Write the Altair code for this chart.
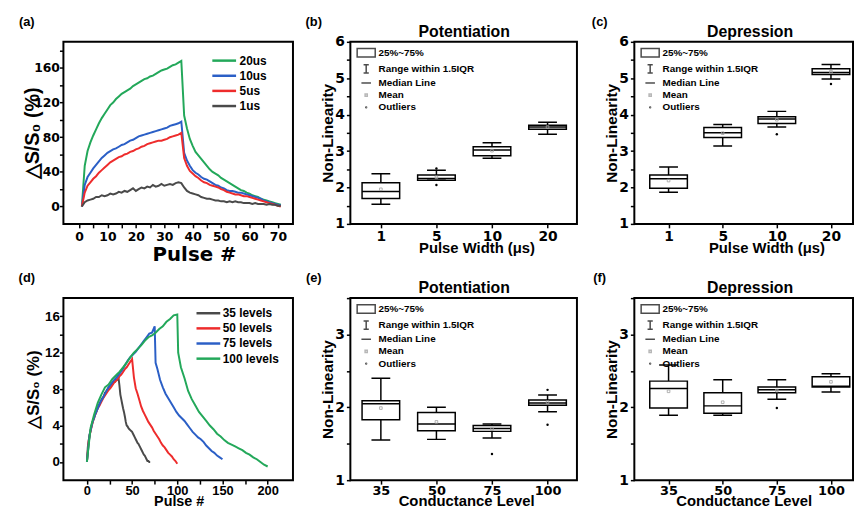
import altair as alt
import pandas as pd

# ---------------- Panel (a): pulse-width curves ----------------
a_pulse = list(range(1, 72))
a_20us = [0, 47, 64, 74, 82, 89, 96, 102, 107, 112, 117, 120, 124, 127, 130, 132, 134, 136, 139, 141,
          143, 145, 147, 148, 150, 151, 153, 155, 157, 158, 159, 161, 163, 164, 166, 168,
          105, 90, 78, 70, 63, 59, 55, 51, 47, 43, 40, 38, 36, 33, 31, 29, 27, 25, 23, 21,
          19, 18, 16, 15, 13, 12, 11, 9, 8, 7, 6, 5, 4, 3, 2]
a_10us = [0, 25, 34, 39, 44, 48, 52, 56, 59, 62, 64, 66, 67, 69, 71, 72, 74, 76, 77, 79,
          81, 82, 83, 84, 85, 86, 87, 88, 89, 90, 91, 93, 94, 95, 96, 98,
          62, 53, 47, 42, 39, 37, 34, 32, 31, 29, 27, 25, 24, 22, 21, 19, 18, 18, 17, 16,
          16, 15, 14, 13, 12, 11, 10, 9, 7, 6, 5, 4, 3, 2, 1.5]
a_5us = [0, 16, 24, 28, 32, 35, 39, 42, 45, 48, 51, 53, 55, 57, 58, 60, 61, 63, 64, 66,
         67, 69, 70, 72, 73, 74, 75, 76, 76, 77, 78, 80, 81, 82, 83, 85,
         56, 47, 41, 38, 35, 33, 30, 28, 27, 25, 24, 23, 22, 20, 19, 17, 16, 15, 14, 14,
         13, 12, 12, 11, 10, 9, 8, 7, 6, 5, 4, 3, 2, 1, 0]
a_1us = [0, 5, 7, 8, 9, 11, 11, 13, 12, 13, 15, 14, 15, 17, 16, 18, 17, 19, 21, 18,
         20, 22, 21, 23, 22, 25, 23, 24, 26, 24, 25, 26, 25, 27, 28, 27,
         22, 18, 16, 15, 14, 13, 11, 10, 9, 9, 8, 7, 7, 6, 6, 5, 6, 5, 6, 5,
         5, 4, 4, 4, 3, 4, 3, 3, 3, 2, 3, 2, 2, 1, 1]
a_series = ["20us", "10us", "5us", "1us"]
a_colors = ["#23a85a", "#2b5fc6", "#ee2c2c", "#4a4a4a"]

# ---------------- Panel (d): conductance-level curves ----------------
d_35_x = list(range(0, 71, 1))
d_35 = [0, 1.6, 2.4, 3.0, 3.4, 3.9, 4.3, 4.6, 4.8, 5.2, 5.4, 5.7, 5.9, 6.2, 6.4, 6.6, 6.8, 7.0, 7.1, 7.3,
        7.6, 7.6, 7.9, 8.0, 8.2, 8.3, 8.4, 8.5, 8.5, 8.7, 8.8, 8.8, 9.0, 9.0, 9.1, 9.2,
        8.4, 7.4, 6.9, 6.4, 5.9, 5.5, 5.0, 4.4, 4.0, 3.9, 3.7, 3.6, 3.5, 3.4, 3.3, 3.1, 2.9, 2.7, 2.5, 2.3,
        2.1, 2.0, 1.8, 1.6, 1.4, 1.2, 1.0, 0.8, 0.7, 0.5, 0.3, 0.1, 0.1, 0.0, 0.0]
d_50_x = list(range(0, 101, 2))
d_50 = [0, 2.3, 3.4, 4.2, 4.9, 5.4, 5.9, 6.2, 6.6, 7.0, 7.3, 7.6, 7.9, 8.1, 8.4, 8.7, 8.9, 9.1, 9.4, 9.6,
        9.9, 10.2, 10.4, 10.7, 11.0, 11.3,
        9.3, 8.1, 7.5, 6.8, 6.1, 5.6, 5.2, 4.8, 4.4, 4.1, 3.8, 3.4, 3.1, 2.8, 2.5, 2.1, 1.8, 1.6, 1.3, 1.0,
        0.8, 0.6, 0.3, 0.1, -0.2]
d_75_x = list(range(0, 76, 3)) + [76] + list(range(78, 151, 3))
d_75 = [0, 3.0, 4.3, 5.2, 5.9, 6.6, 7.1, 7.7, 8.2, 8.6, 9.0, 9.3, 9.7, 10.1, 10.6, 11.1, 11.5, 11.8, 12.1, 12.5,
        12.9, 13.3, 13.7, 14.1, 14.2, 14.9,
        10.9,
        10.2, 9.0, 8.2, 7.5, 7.0, 6.5, 6.0, 5.5, 5.1, 4.8, 4.5, 4.1, 3.7, 3.3, 3.0, 2.7, 2.5, 2.2, 1.8, 1.5,
        1.2, 1.0, 0.7, 0.5, 0.3]
d_100_x = list(range(0, 101, 4)) + [101] + list(range(104, 201, 4))
d_100 = [0, 3.7, 5.2, 6.5, 7.4, 8.2, 8.5, 9.1, 9.5, 9.9, 10.4, 10.9, 11.5, 12.0, 12.4, 12.8, 13.3, 13.7, 13.9, 14.2,
         14.6, 14.9, 15.4, 15.7, 16.1, 16.2,
         12.0,
         10.4, 9.2, 7.8, 6.9, 6.2, 5.5, 5.0, 4.5, 4.0, 3.6, 3.1, 2.8, 2.4, 2.1, 1.9, 1.7, 1.5, 1.3, 1.0, 0.8,
         0.5, 0.3, 0.0, -0.3, -0.5]
d_series = ["35 levels", "50 levels", "75 levels", "100 levels"]
d_colors = ["#4a4a4a", "#ee2c2c", "#2b5fc6", "#23a85a"]

# ---------------- Box statistics ----------------
pw_cats = ["1", "5", "10", "20"]
b_lo = [1.54, 2.20, 2.80, 3.46]
b_q1 = [1.70, 2.20, 2.87, 3.60]
b_med = [1.89, 2.25, 3.03, 3.66]
b_q3 = [2.13, 2.34, 3.12, 3.71]
b_hi = [2.38, 2.47, 3.23, 3.79]
b_mean = [1.95, 2.28, 3.01, 3.66]
b_out_cat = ["5", "5"]
b_out_val = [2.07, 2.52]

c_lo = [1.87, 3.14, 3.66, 4.98]
c_q1 = [1.98, 3.37, 3.76, 5.10]
c_med = [2.24, 3.50, 3.88, 5.16]
c_q3 = [2.34, 3.65, 3.94, 5.26]
c_hi = [2.56, 3.73, 4.09, 5.38]
c_mean = [2.19, 3.49, 3.86, 5.18]
c_out_cat = ["10", "20"]
c_out_val = [3.46, 4.84]

cl_cats = ["35", "50", "75", "100"]
e_lo = [1.55, 1.56, 1.58, 1.94]
e_q1 = [1.83, 1.68, 1.67, 2.03]
e_med = [2.05, 1.77, 1.71, 2.06]
e_q3 = [2.09, 1.93, 1.75, 2.10]
e_hi = [2.40, 2.00, 1.77, 2.17]
e_mean = [1.99, 1.80, 1.70, 2.07]
e_out_cat = ["75", "100", "100"]
e_out_val = [1.36, 2.24, 1.76]

f_lo = [1.89, 1.89, 2.11, 2.21]
f_q1 = [1.99, 1.92, 2.20, 2.28]
f_med = [2.26, 2.02, 2.24, 2.29]
f_q3 = [2.36, 2.20, 2.28, 2.42]
f_hi = [2.58, 2.38, 2.38, 2.46]
f_mean = [2.22, 2.07, 2.23, 2.35]
f_out_cat = ["75"]
f_out_val = [1.99]

legend_items = ["25%~75%", "Range within 1.5IQR", "Median Line", "Mean", "Outliers"]
legend_paths = ["M-2.08,-0.99H2.08V0.99H-2.08Z",
                "M-0.6,-0.95H0.6M0,-0.95V0.95M-0.6,0.95H0.6",
                "M-1.1,0H1.1",
                "M-0.25,-0.25H0.25V0.25H-0.25Z",
                "M-0.1,0A0.1,0.1,0,1,1,0.1,0A0.1,0.1,0,1,1,-0.1,0Z"]
legend_colors = ["black", "black", "black", "#9a9a9a", "black"]

LABF = "DejaVu Sans"
TXTF = "Liberation Sans"
W1, W2, W3, H = 232, 229, 221, 184


def text_mark(text, x, y, size, baseline="middle"):
    return alt.Chart(pd.DataFrame({"t": [text]})).mark_text(
        font=TXTF, fontSize=size, fontWeight="bold", color="black", align="center", baseline=baseline
    ).encode(text="t:N", x=alt.value(x), y=alt.value(y))


def line_panel(xs, ys, series, colors, xdom, xticks, xevery, ydom, yticks, yevery,
               xaxis_kw, yaxis_kw, leg_x, leg_y, leg_off, label):
    rows = []
    for x_list, y_list, nm in zip(xs, ys, series):
        for x, y in zip(x_list, y_list):
            rows.append({"pulse": x, "val": y, "series": nm})
    df = pd.DataFrame(rows)
    lines = alt.Chart(df).mark_line(strokeWidth=2, clip=True).encode(
        x=alt.X("pulse:Q", scale=alt.Scale(domain=xdom, nice=False, zero=False),
                axis=alt.Axis(values=xticks, labelExpr=f"datum.value % {xevery} == 0 ? datum.label : ''",
                              **xaxis_kw)),
        y=alt.Y("val:Q", scale=alt.Scale(domain=ydom, nice=False, zero=False),
                axis=alt.Axis(values=yticks, labelExpr=f"datum.value % {yevery} == 0 ? datum.label : ''",
                              **yaxis_kw)),
        color=alt.Color("series:N", sort=series,
                        scale=alt.Scale(domain=series, range=colors),
                        legend=alt.Legend(orient="none", legendX=leg_x, legendY=leg_y, title=None,
                                          symbolType="M-2.4,0H2.4", symbolSize=100, symbolStrokeWidth=2.5,
                                          labelFont=TXTF, labelFontSize=12, labelFontWeight="bold",
                                          labelColor="black", labelOffset=leg_off, rowPadding=2.3,
                                          padding=0)),
        detail="series:N",
    )
    return alt.layer(lines, text_mark(label, -37, -20, 13)).properties(width=W1, height=H)


def box_panel(cats, lo, q1, med, q3, hi, mean, out_cat, out_val, ydom, yticks, title, title_x,
              xdom, xaxis_kw, label, label_x, width):
    idx = list(range(len(cats)))
    df = pd.DataFrame({"idx": idx, "lo": lo, "q1": q1, "med": med, "q3": q3, "hi": hi, "mean": mean})
    odf = pd.DataFrame({"idx": [cats.index(c) for c in out_cat], "val": out_val})
    names = "[" + ",".join(f"'{c}'" for c in cats) + "]"
    xscale = alt.Scale(domain=xdom, nice=False, zero=False)
    xaxis = alt.Axis(values=idx, labelExpr=f"{names}[datum.value]", **xaxis_kw)
    yscale = alt.Scale(domain=ydom, nice=False, zero=False)
    yaxis = alt.Axis(values=yticks, labelExpr="datum.value % 1 == 0 ? format(datum.value, 'd') : ''",
                     title="Non-Linearity", titleFontSize=15.5, titleX=-18, titleY=H / 2,
                     titleBaseline="alphabetic", titleAlign="center", labelFontSize=14, labelPadding=2)

    def X():
        return alt.X("idx:Q", scale=xscale, axis=xaxis)

    def Y(field):
        return alt.Y(f"{field}:Q", scale=yscale, axis=yaxis)

    base = alt.Chart(df).encode(x=X())
    whisk = base.mark_rule(color="black", strokeWidth=1.5, clip=True).encode(y=Y("lo"), y2="hi:Q")
    box = base.mark_bar(size=38, fill="white", stroke="black", strokeWidth=1.5, clip=True).encode(
        y=Y("q1"), y2="q3:Q")
    medl = base.mark_tick(orient="horizontal", size=38, thickness=1.5, color="black", opacity=1,
                          clip=True).encode(y=Y("med"))
    caplo = base.mark_tick(orient="horizontal", size=19, thickness=1.5, color="black", opacity=1,
                           clip=True).encode(y=Y("lo"))
    caphi = base.mark_tick(orient="horizontal", size=19, thickness=1.5, color="black", opacity=1,
                           clip=True).encode(y=Y("hi"))
    meanp = base.mark_point(shape="square", size=7, color="#a0a0a0", strokeWidth=0.8,
                            filled=False, opacity=1).encode(y=Y("mean"))
    outl = alt.Chart(odf).mark_point(shape="circle", size=6, filled=True, color="black", opacity=1).encode(
        x=X(), y=alt.Y("val:Q", scale=yscale, axis=yaxis))
    leg_l = alt.Legend(orient="none", legendX=10.5, legendY=5.5, title=None, symbolSize=77,
                       symbolStrokeWidth=1.5, labelFont=TXTF, labelFontSize=10, labelFontWeight="bold",
                       labelColor="black", labelOffset=7, rowPadding=1.3, padding=0)
    leg = alt.Chart(pd.DataFrame({"item": legend_items})).transform_filter(
        "datum.item == '__none__'").mark_point(filled=False, strokeWidth=1.5).encode(
        shape=alt.Shape("item:N", sort=legend_items,
                        scale=alt.Scale(domain=legend_items, range=legend_paths), legend=leg_l),
        color=alt.Color("item:N", sort=legend_items,
                        scale=alt.Scale(domain=legend_items, range=legend_colors), legend=leg_l),
    )
    return alt.layer(whisk, box, medl, caplo, caphi, meanp, outl, leg,
                     text_mark(label, label_x, -20, 13),
                     text_mark(title, title_x, -5, 16, baseline="alphabetic")).properties(width=width, height=H)


pa = line_panel([a_pulse] * 4, [a_20us, a_10us, a_5us, a_1us], a_series, a_colors,
                [-5.5, 75.3], list(range(0, 71, 5)), 10, [-20, 190], list(range(0, 181, 20)), 40,
                dict(title="Pulse #", titleFont=LABF, titleFontSize=20, titleX=132, titleY=37,
                     titleBaseline="alphabetic", titleAlign="center", labelFontSize=12.5, labelPadding=3),
                dict(title="△S/S₀ (%)", titleFontSize=20, titleX=-25, titleY=H / 2,
                     titleBaseline="alphabetic", titleAlign="center", labelFontSize=12.5, labelPadding=0),
                156, 12.5, 9, "(a)")
pd_ = line_panel([d_35_x, d_50_x, d_75_x, d_100_x], [d_35, d_50, d_75, d_100], d_series, d_colors,
                 [-26, 228], list(range(0, 201, 25)), 50, [-2, 18], list(range(0, 17, 2)), 4,
                 dict(title="Pulse #", titleFontSize=14.5, titleX=116.5, titleY=25.5,
                      titleBaseline="alphabetic", titleAlign="center", labelFont=TXTF, labelFontSize=13,
                      labelPadding=0),
                 dict(title="△S/S₀ (%)", titleFontSize=17, titleX=-25, titleY=H / 2,
                      titleBaseline="alphabetic", titleAlign="center", labelFont=TXTF, labelFontSize=13.5,
                      labelPadding=0),
                 140, 8.8, 8, "(d)")

yt6 = [1, 1.5, 2, 2.5, 3, 3.5, 4, 4.5, 5, 5.5, 6]
yt3 = [1, 1.5, 2, 2.5, 3, 3.5]
dom_be = [-0.46, 3.44]
dom_cf = [-0.541, 3.316]
pb = box_panel(pw_cats, b_lo, b_q1, b_med, b_q3, b_hi, b_mean, b_out_cat, b_out_val, [1, 6], yt6,
               "Potentiation", 115, dom_be,
               dict(title="Pulse Width (μs)", titleFontSize=15, titleX=127.5, titleY=28.5,
                    titleBaseline="alphabetic", titleAlign="center", labelFontSize=14, labelPadding=1.5),
               "(b)", -37, W2)
pc = box_panel(pw_cats, c_lo, c_q1, c_med, c_q3, c_hi, c_mean, c_out_cat, c_out_val, [1, 6], yt6,
               "Depression", 117, dom_cf,
               dict(title="Pulse Width (μs)", titleFontSize=15, titleX=133.5, titleY=28.5,
                    titleBaseline="alphabetic", titleAlign="center", labelFontSize=14, labelPadding=1.5),
               "(c)", -35, W3)
pe = box_panel(cl_cats, e_lo, e_q1, e_med, e_q3, e_hi, e_mean, e_out_cat, e_out_val, [1, 3.5], yt3,
               "Potentiation", 115, dom_be,
               dict(title="Conductance Level", titleFontSize=15, titleX=117, titleY=25.5,
                    titleBaseline="alphabetic", titleAlign="center", labelFontSize=13, labelPadding=0),
               "(e)", -37, W2)
pf = box_panel(cl_cats, f_lo, f_q1, f_med, f_q3, f_hi, f_mean, f_out_cat, f_out_val, [1, 3.5], yt3,
               "Depression", 117, dom_cf,
               dict(title="Conductance Level", titleFontSize=15, titleX=110.5, titleY=25.5,
                    titleBaseline="alphabetic", titleAlign="center", labelFontSize=13, labelPadding=0),
               "(f)", -35, W3)

chart = alt.concat(pa, pb, pc, pd_, pe, pf, columns=3, spacing={"row": 75, "column": 58},
                   bounds="flush").resolve_scale(color="independent", shape="independent").properties(
    padding={"left": 9, "top": 4.5, "right": 0, "bottom": 0}
).configure(font=TXTF, background="white").configure_view(
    stroke="black", strokeWidth=2
).configure_axis(
    labelFont=LABF, labelFontSize=13, labelFontWeight="bold", labelColor="black",
    titleFont=TXTF, titleFontSize=15, titleFontWeight="bold", titleColor="black",
    tickColor="black", tickWidth=1.5, tickSize=4, domain=False, grid=False,
    labelPadding=2, titlePadding=3
)

chart.save("out.html", embed_options={"renderer": "svg", "actions": False})
